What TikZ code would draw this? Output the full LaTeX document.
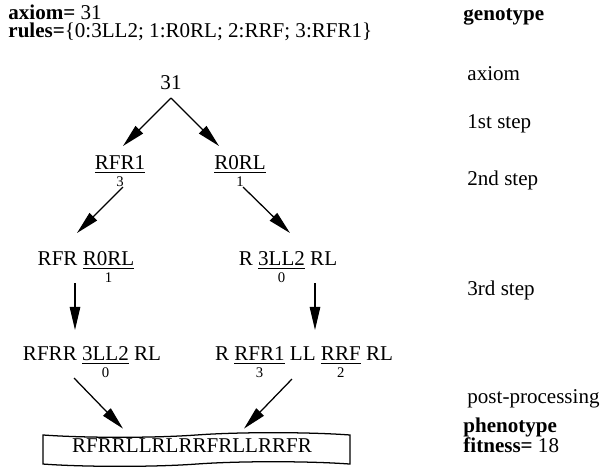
\documentclass[tikz,border=0pt]{standalone}
\usepackage{amsmath}
\usepackage{fontspec}
\setmainfont{Liberation Serif}
\usetikzlibrary{arrows.meta,shapes.symbols}

% a rewritten part: underlined, with its rule number below
\newcommand{\gene}[2]{$\underset{\text{\scriptsize #2}}{\underline{\text{#1}}}$}

\tikzset{
	word/.style={anchor=base, inner sep=0pt},
	lbl/.style={anchor=base west, inner sep=0pt},
	arr/.style={-{Triangle[length=11pt,width=5pt]}, line width=0.6pt},
	phenobox/.style={draw, shape=tape, tape bend height=2.2pt, line width=0.6pt,
		minimum width=145.8pt, minimum height=16pt, inner sep=0pt},
}

\begin{document}
\begin{tikzpicture}[x=0.475pt, y=-0.475pt]
	\useasboundingbox (0,0) rectangle (600,472);
	% header
	\node[lbl] (hdraxiom) at (8,19) {\textbf{axiom=} 31};
	\node[lbl] (hdrrules) at (8,37) {\textbf{rules=}\{0:3LL2; 1:R0RL; 2:RRF; 3:RFR1\}};
	% labels on the right
	\node[lbl] (genotype) at (463,20) {\textbf{genotype}};
	\node[lbl] (laxiom) at (467,80) {axiom};
	\node[lbl] (lfirst) at (467,128) {1st step};
	\node[lbl] (lsecond) at (467,185) {2nd step};
	\node[lbl] (lthird) at (467,295) {3rd step};
	\node[lbl] (lpost) at (467,403) {post-processing};
	\node[lbl] (phenotype) at (463,432) {\textbf{phenotype}};
	\node[lbl] (fitness) at (463,452) {\textbf{fitness=} 18};
	% derivation tree
	\node[word] (n31) at (171,89) {31};
	\node[word] (rfr1) at (120,169) {\gene{RFR1}{3}};
	\node[word] (r0rl) at (240,169) {\gene{R0RL}{1}};
	\node[word] (s2a) at (86,265) {RFR \gene{R0RL}{1}};
	\node[word] (s2b) at (288,265) {R \gene{3LL2}{0} RL};
	\node[word] (s3a) at (92,360) {RFRR \gene{3LL2}{0} RL};
	\node[word] (s3b) at (304,360) {R \gene{RFR1}{3} LL \gene{RRF}{2} RL};
	\node[phenobox] (pheno) at (196.5,449.5) {};
	\node[word] (phenostr) at (192,452) {RFRRLLRLRRFRLLRRFR};
	% arrows
	\draw[arr] ([shift={(0,9)}]n31.base) -- ([shift={(3,-23)}]rfr1.base);
	\draw[arr] ([shift={(0,9)}]n31.base) -- ([shift={(-21,-23)}]r0rl.base);
	\draw[arr] ([shift={(3,18)}]rfr1.base) -- ([shift={(-9,-32)}]s2a.base);
	\draw[arr] ([shift={(3,18)}]r0rl.base) -- ([shift={(2,-32)}]s2b.base);
	\draw[arr] ([shift={(-11,18)}]s2a.base) -- ([shift={(-17,-30)}]s3a.base);
	\draw[arr] ([shift={(27,18)}]s2b.base) -- ([shift={(11,-30)}]s3b.base);
	\draw[arr] ([shift={(-18,18)}]s3a.base) -- ([shift={(-73.5,-6)}]pheno.north);
	\draw[arr] ([shift={(-12,19)}]s3b.base) -- ([shift={(47.5,-6)}]pheno.north);
\end{tikzpicture}
\end{document}
